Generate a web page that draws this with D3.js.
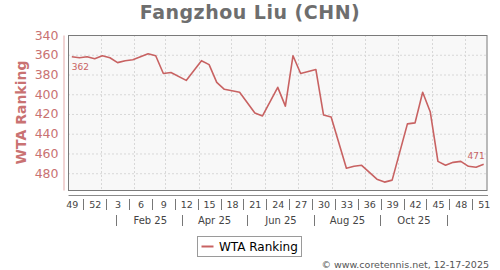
<!DOCTYPE html>
<html>
<head>
<meta charset="utf-8">
<script src="https://cdn.jsdelivr.net/npm/d3@7"></script>
<style>
  body { margin: 0; background: #fff; }
  text { font-family: "DejaVu Sans", sans-serif; }
</style>
</head>
<body>
<div id="chart"></div>
<script>
// Datos ----------------------------------------------------------------------------------------
const rankDates = [
  "2024-12-02", "2024-12-09", "2024-12-16", "2024-12-23", "2024-12-30", "2025-01-06",
  "2025-01-13", "2025-01-20", "2025-01-27", "2025-02-03", "2025-02-10", "2025-02-17",
  "2025-02-24", "2025-03-03", "2025-03-17", "2025-03-31", "2025-04-07", "2025-04-14",
  "2025-04-21", "2025-05-05", "2025-05-19", "2025-05-26", "2025-06-09", "2025-06-16",
  "2025-06-23", "2025-06-30", "2025-07-14", "2025-07-21", "2025-07-28", "2025-08-11",
  "2025-08-18", "2025-08-25", "2025-09-08", "2025-09-15", "2025-09-22", "2025-10-06",
  "2025-10-13", "2025-10-20", "2025-10-27", "2025-11-03", "2025-11-10", "2025-11-17",
  "2025-11-24", "2025-12-01", "2025-12-08", "2025-12-15"
];
const ranks = [
  362, 363, 362, 364, 361, 363,
  368, 366, 365, 362, 359, 361,
  379, 378, 386, 366, 370, 388,
  395, 398, 419, 422, 393, 412,
  361, 379, 375, 421, 423, 475,
  473, 472, 486, 489, 487, 430,
  429, 398, 418, 468, 472, 469,
  468, 473, 474, 471
];

const xDomain = ["2024-12-02", "2025-12-22"];
const yDomain = [340, 497];
const yTicks = [340, 360, 380, 400, 420, 440, 460, 480];

const weekTickDates = [
  "2024-12-02", "2024-12-23", "2025-01-13", "2025-02-03", "2025-02-24", "2025-03-17",
  "2025-04-07", "2025-04-28", "2025-05-19", "2025-06-09", "2025-06-30", "2025-07-21",
  "2025-08-11", "2025-09-01", "2025-09-22", "2025-10-13", "2025-11-03", "2025-11-24",
  "2025-12-15"
];
const weekTickLabels = ["49", "52", "3", "6", "9", "12", "15", "18", "21", "24", "27",
  "30", "33", "36", "39", "42", "45", "48", "51"];
const monthLabels = ["Feb 25", "Apr 25", "Jun 25", "Aug 25", "Oct 25"];

// Configuración --------------------------------------------------------------------------------
const WIDTH = 500;
const HEIGHT = 270;
const PLOT = { left: 68, right: 487.5, top: 35, bottom: 190 };
const LINE_COLOR = "#c86262";
const AXIS_COLOR = "#c97272";

const parse = d3.timeParse("%Y-%m-%d");
const mid = d => d3.timeHour.offset(d, 84); // centro de la semana

const data = rankDates.map((d, i) => ({ date: parse(d), rank: ranks[i] }));

const svg = d3.select("#chart").append("svg")
  .attr("width", WIDTH)
  .attr("height", HEIGHT);

svg.append("rect").attr("width", WIDTH).attr("height", HEIGHT).attr("fill", "#fff");

const x = d3.scaleTime()
  .domain(xDomain.map(parse))
  .range([PLOT.left, PLOT.right]);

const y = d3.scaleLinear()
  .domain(yDomain)
  .range([PLOT.top, PLOT.bottom]);

// Título
svg.append("text")
  .attr("x", 250)
  .attr("y", 18.5)
  .attr("text-anchor", "middle")
  .attr("font-size", 19)
  .attr("font-weight", "bold")
  .attr("letter-spacing", 0.5)
  .attr("fill", "#6e6e6e")
  .text("Fangzhou Liu (CHN)");

// Fondo del gráfico
svg.append("rect")
  .attr("x", PLOT.left)
  .attr("y", PLOT.top)
  .attr("width", PLOT.right - PLOT.left)
  .attr("height", PLOT.bottom - PLOT.top)
  .attr("fill", "#f8f8f8");

// Grilla
svg.selectAll("line.gridY")
  .data(yTicks)
  .enter()
  .append("line")
  .attr("class", "gridY")
  .attr("x1", PLOT.left)
  .attr("x2", PLOT.right)
  .attr("y1", d => y(d) + 0.5)
  .attr("y2", d => y(d) + 0.5)
  .attr("stroke", "#d8d8d8")
  .attr("stroke-dasharray", "2,2");

svg.selectAll("line.gridX")
  .data(d3.timeMonth.range(x.domain()[0], x.domain()[1]))
  .enter()
  .append("line")
  .attr("class", "gridX")
  .attr("x1", d => Math.round(x(d)) + 0.5)
  .attr("x2", d => Math.round(x(d)) + 0.5)
  .attr("y1", PLOT.top)
  .attr("y2", PLOT.bottom)
  .attr("stroke", "#d8d8d8")
  .attr("stroke-dasharray", "2,2");

// Línea del ranking
svg.append("path")
  .datum(data)
  .attr("fill", "none")
  .attr("stroke", LINE_COLOR)
  .attr("stroke-width", 1.6)
  .attr("stroke-linejoin", "round")
  .attr("d", d3.line().x(d => x(mid(d.date))).y(d => y(d.rank)));

// Etiquetas del primer y último valor
const first = data[0];
const last = data[data.length - 1];
svg.append("text")
  .attr("x", x(mid(first.date)))
  .attr("y", y(first.rank) + 13)
  .attr("font-size", 9)
  .attr("fill", LINE_COLOR)
  .text(first.rank);
svg.append("text")
  .attr("x", x(mid(last.date)) + 1)
  .attr("y", y(last.rank) - 5)
  .attr("text-anchor", "end")
  .attr("font-size", 9)
  .attr("fill", LINE_COLOR)
  .text(last.rank);

// Borde del gráfico
svg.append("rect")
  .attr("x", PLOT.left + 0.5)
  .attr("y", PLOT.top + 0.5)
  .attr("width", PLOT.right - PLOT.left - 1)
  .attr("height", PLOT.bottom - PLOT.top)
  .attr("fill", "none")
  .attr("stroke", "#7a7a7a");

// Eje Y
const yAxis = svg.append("g")
  .attr("transform", `translate(${PLOT.left - 4.5},0)`)
  .call(d3.axisLeft(y).tickValues(yTicks).tickSize(0).tickSizeOuter(0).tickPadding(5));
yAxis.select(".domain").attr("stroke", "#e3a9a9");
yAxis.selectAll("text")
  .attr("font-size", 12.5)
  .attr("font-family", "DejaVu Sans, sans-serif")
  .attr("fill", AXIS_COLOR);

svg.append("text")
  .attr("transform", `translate(21,${(PLOT.top + PLOT.bottom) / 2}) rotate(-90)`)
  .attr("text-anchor", "middle")
  .attr("dominant-baseline", "central")
  .attr("font-size", 14)
  .attr("font-weight", "bold")
  .attr("fill", AXIS_COLOR)
  .text("WTA Ranking");

// Eje X: semanas
const weekDates = weekTickDates.map(parse);
const weekAxis = svg.append("g")
  .attr("transform", `translate(0,${PLOT.bottom + 5})`)
  .call(d3.axisBottom(x)
    .tickValues(weekDates.map(mid))
    .tickFormat((d, i) => weekTickLabels[i])
    .tickSize(0)
    .tickSizeOuter(0)
    .tickPadding(6));
weekAxis.select(".domain").attr("stroke", "#8a8a8a");
weekAxis.selectAll("text")
  .attr("font-size", 9.5)
  .attr("font-family", "DejaVu Sans, sans-serif")
  .attr("fill", "#444");

const weekSeps = d3.pairs(weekDates.map(mid), (a, b) => new Date((+a + +b) / 2));
svg.selectAll("line.sepSemana")
  .data(weekSeps)
  .enter()
  .append("line")
  .attr("class", "sepSemana")
  .attr("x1", d => Math.round(x(d)) + 0.5)
  .attr("x2", d => Math.round(x(d)) + 0.5)
  .attr("y1", PLOT.bottom + 9)
  .attr("y2", PLOT.bottom + 20)
  .attr("stroke", "#777");

// Eje X: meses
const monthCenters = monthLabels.map(m => d3.timeDay.offset(d3.timeParse("%b %y")(m), 14));
const monthAxis = svg.append("g")
  .attr("transform", `translate(0,${PLOT.bottom + 21})`)
  .call(d3.axisBottom(x)
    .tickValues(monthCenters)
    .tickFormat((d, i) => monthLabels[i])
    .tickSize(0)
    .tickSizeOuter(0)
    .tickPadding(6));
monthAxis.select(".domain").remove();
monthAxis.selectAll("text")
  .attr("font-size", 10)
  .attr("font-family", "DejaVu Sans, sans-serif")
  .attr("fill", "#444");

const monthEdges = [d3.timeMonth.offset(monthCenters[0], -2), ...monthCenters,
  d3.timeMonth.offset(monthCenters[monthCenters.length - 1], 2)];
const monthSeps = d3.pairs(monthEdges, (a, b) => new Date((+a + +b) / 2));
svg.selectAll("line.sepMes")
  .data(monthSeps)
  .enter()
  .append("line")
  .attr("class", "sepMes")
  .attr("x1", d => Math.round(x(d)) + 0.5)
  .attr("x2", d => Math.round(x(d)) + 0.5)
  .attr("y1", PLOT.bottom + 25)
  .attr("y2", PLOT.bottom + 36)
  .attr("stroke", "#777");

// Leyenda
const legend = svg.append("g").attr("transform", "translate(197.5,236.5)");
legend.append("rect")
  .attr("width", 104)
  .attr("height", 20)
  .attr("fill", "#fff")
  .attr("stroke", "#9a9a9a");
legend.append("line")
  .attr("x1", 4)
  .attr("x2", 16)
  .attr("y1", 10)
  .attr("y2", 10)
  .attr("stroke", LINE_COLOR)
  .attr("stroke-width", 2);
legend.append("text")
  .attr("x", 21.5)
  .attr("y", 10)
  .attr("dominant-baseline", "central")
  .attr("font-size", 12)
  .attr("fill", "#000")
  .text("WTA Ranking");

// Pie
svg.append("text")
  .attr("x", 489)
  .attr("y", 267.5)
  .attr("text-anchor", "end")
  .attr("font-size", 9.5)
  .attr("fill", "#555")
  .text("© www.coretennis.net, 12-17-2025");
</script>
</body>
</html>
